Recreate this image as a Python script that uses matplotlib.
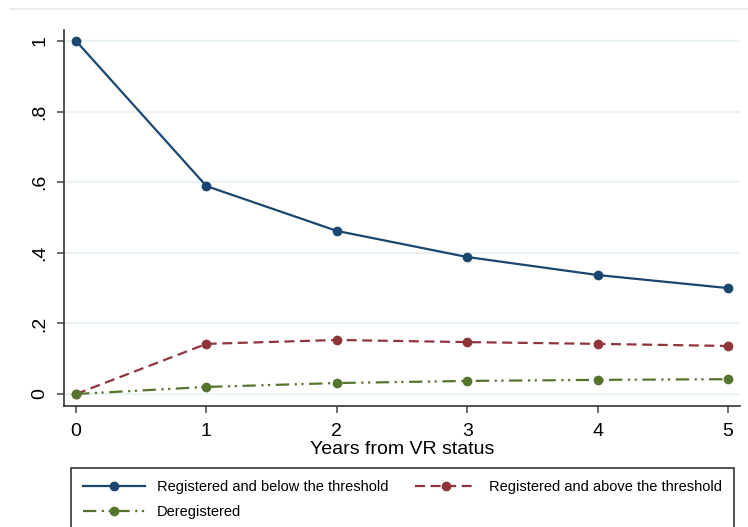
import matplotlib
matplotlib.use("Agg")
import matplotlib.pyplot as plt
from matplotlib.lines import Line2D

plt.rcParams['font.family'] = ['Liberation Sans', 'DejaVu Sans']

years = [0, 1, 2, 3, 4, 5]
below = [1.0, 0.589, 0.462, 0.388, 0.337, 0.300]
above = [0.0, 0.142, 0.153, 0.147, 0.142, 0.136]
dereg = [0.0, 0.020, 0.031, 0.037, 0.040, 0.042]

y_ticks = [0, 0.2, 0.4, 0.6, 0.8, 1.0]
y_labels = ["0", ".2", ".4", ".6", ".8", "1"]
x_label = "Years from VR status"
names = ["Registered and below the threshold",
         "Registered and above the threshold",
         "Deregistered"]

c_blue = "#1a476f"
c_red = "#90353b"
c_green = "#55752f"

W, H = 748, 527
fig = plt.figure(figsize=(W / 100, H / 100), dpi=100)
ax = fig.add_axes([64 / W, (H - 406) / H, (740 - 64) / W, (406 - 30) / H])

ax.set_xlim(-0.092, 5.092)
ax.set_ylim(-0.034, 1.031)

for y in y_ticks:
    ax.axhline(y, color="#eaf2f3", lw=1.6, zorder=0)

ms = 6
l1, = ax.plot(years, below, color=c_blue, lw=1.6, marker="o", ms=ms, ls="-")
l2, = ax.plot(years, above, color=c_red, lw=1.6, marker="o", ms=ms,
              ls=(0, (4.5, 2.5)))
l3, = ax.plot(years, dereg, color=c_green, lw=1.6, marker="o", ms=ms,
              ls=(0, (6, 2.5, 1, 2, 1, 2.5)))

ax.set_xticks(years)
ax.set_xticklabels([str(v) for v in years], fontsize=14)
ax.set_yticks(y_ticks)
ax.set_yticklabels(y_labels, fontsize=14, rotation=90, va="center")
ax.tick_params(axis="both", direction="out", length=5, width=1.1, color="#444444")
ax.tick_params(axis="x", pad=7)
ax.tick_params(axis="y", pad=6)
ax.set_xlabel(x_label, fontsize=14, labelpad=1)

for s in ["top", "right"]:
    ax.spines[s].set_visible(False)
for s in ["left", "bottom"]:
    ax.spines[s].set_color("#333333")
    ax.spines[s].set_linewidth(1.2)

fig.add_artist(Line2D([10 / W, 1.0], [(H - 9) / H] * 2, color="#e6eaec",
                      lw=1.2, transform=fig.transFigure))

leg = fig.legend([l1, l3, l2], [names[0], names[2], names[1]], ncol=2,
                 loc="upper left",
                 bbox_to_anchor=(71 / W, 0, (734 - 71) / W, (H - 468) / H),
                 mode="expand", fontsize=10.5, handlelength=4.25,
                 handletextpad=0.8, borderpad=0.85, labelspacing=0.75,
                 fancybox=False, framealpha=1, edgecolor="#333333",
                 borderaxespad=0)
leg.get_frame().set_linewidth(1.2)

fig.savefig("out.png", dpi=100)
